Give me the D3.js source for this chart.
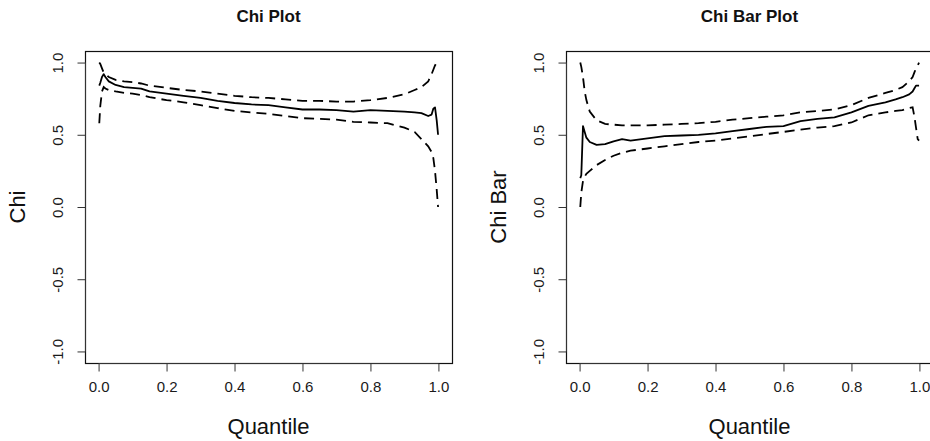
<!DOCTYPE html>
<html><head><meta charset="utf-8">
<script src="https://cdn.jsdelivr.net/npm/d3@7"></script>
<style>html,body{margin:0;padding:0;background:#fff;}svg{display:block;font-family:"Liberation Sans",Arial,sans-serif;}</style>
</head><body>
<svg id="c" width="930" height="441"></svg>
<script>
const quantiles = [0.002,0.005,0.01,0.015,0.02,0.03,0.05,0.075,0.1,0.125,0.15,0.2,0.25,0.3,0.35,0.4,0.45,0.5,0.55,0.6,0.65,0.7,0.75,0.8,0.85,0.9,0.93,0.95,0.97,0.98,0.985,0.99,0.995,0.999];

const chiMain  = [0.84,0.86,0.90,0.92,0.90,0.87,0.845,0.83,0.825,0.82,0.80,0.785,0.77,0.755,0.735,0.72,0.71,0.705,0.69,0.675,0.675,0.67,0.66,0.67,0.665,0.66,0.655,0.65,0.63,0.64,0.68,0.69,0.60,0.50];
const chiUpper = [1.0,0.99,0.96,0.93,0.92,0.90,0.88,0.87,0.865,0.855,0.84,0.825,0.81,0.80,0.785,0.77,0.76,0.755,0.745,0.735,0.735,0.73,0.73,0.74,0.755,0.78,0.81,0.83,0.87,0.92,0.95,0.98,1.0,1.0];
const chiLower = [0.58,0.70,0.80,0.83,0.82,0.81,0.80,0.79,0.785,0.775,0.76,0.74,0.725,0.705,0.685,0.665,0.655,0.645,0.63,0.615,0.61,0.605,0.59,0.585,0.58,0.55,0.52,0.47,0.42,0.38,0.34,0.25,0.12,0.0];

const chiBarMain  = [0.20,0.22,0.56,0.52,0.48,0.45,0.43,0.435,0.455,0.47,0.46,0.475,0.49,0.495,0.50,0.51,0.525,0.54,0.555,0.56,0.595,0.61,0.62,0.655,0.70,0.725,0.745,0.76,0.78,0.80,0.82,0.84,0.84,0.84];
const chiBarUpper = [1.0,0.97,0.90,0.80,0.74,0.66,0.60,0.575,0.57,0.565,0.565,0.565,0.57,0.575,0.58,0.59,0.605,0.615,0.625,0.635,0.655,0.665,0.675,0.705,0.755,0.79,0.81,0.83,0.87,0.90,0.93,0.96,0.98,1.0];
const chiBarLower = [0.0,0.10,0.18,0.21,0.23,0.25,0.29,0.325,0.355,0.375,0.39,0.405,0.42,0.435,0.45,0.46,0.475,0.49,0.505,0.52,0.535,0.55,0.56,0.585,0.635,0.655,0.665,0.67,0.685,0.69,0.63,0.55,0.47,0.46];

const xTicks = [0.0,0.2,0.4,0.6,0.8,1.0];
const yTicks = [-1.0,-0.5,0.0,0.5,1.0];

const panels = [
  {title:"Chi Plot", ylab:"Chi", main:chiMain, upper:chiUpper, lower:chiLower, left:85, right:452},
  {title:"Chi Bar Plot", ylab:"Chi Bar", main:chiBarMain, upper:chiBarUpper, lower:chiBarLower, left:566, right:933}
];

const svg = d3.select("#c");
const boxTop = 51, boxBottom = 363;
const fmt = d => d.toFixed(1);

panels.forEach(p => {
  const x = d3.scaleLinear().domain([-0.04,1.04]).range([p.left,p.right]);
  const y = d3.scaleLinear().domain([-1.08,1.08]).range([boxBottom,boxTop]);
  const g = svg.append("g");

  const line = arr => d3.line().x((d,i)=>x(quantiles[i])).y(d=>y(d))(arr);
  g.append("path").attr("d", line(p.upper)).attr("fill","none").attr("stroke","#000")
    .attr("stroke-width",1.8).attr("stroke-dasharray","10,6");
  g.append("path").attr("d", line(p.lower)).attr("fill","none").attr("stroke","#000")
    .attr("stroke-width",1.8).attr("stroke-dasharray","10,6");
  g.append("path").attr("d", line(p.main)).attr("fill","none").attr("stroke","#000")
    .attr("stroke-width",1.8).attr("stroke-linejoin","round");

  g.append("rect").attr("x",p.left+0.5).attr("y",boxTop+0.5)
    .attr("width",p.right-p.left).attr("height",boxBottom-boxTop)
    .attr("fill","none").attr("stroke","#111").attr("stroke-width",1.2);

  const xa = g.append("g").attr("transform",`translate(0,${boxBottom+0.5})`)
    .call(d3.axisBottom(x).tickValues(xTicks).tickSize(8).tickSizeOuter(0).tickPadding(10).tickFormat(fmt));
  xa.select(".domain").attr("d", `M${x(0)},0H${x(1)}`).attr("stroke","#333");
  xa.selectAll(".tick line").attr("stroke","#333");
  xa.selectAll("text").attr("font-size",15).attr("fill","#1a1a1a").attr("font-family","'Liberation Sans',Arial,sans-serif");

  const ya = g.append("g").attr("transform",`translate(${p.left+0.5},0)`)
    .call(d3.axisLeft(y).tickValues(yTicks).tickSize(8).tickSizeOuter(0).tickFormat(fmt));
  ya.select(".domain").attr("d", `M0,${y(-1)}V${y(1)}`).attr("stroke","#333");
  ya.selectAll(".tick line").attr("stroke","#333");
  ya.selectAll(".tick text").attr("font-size",15).attr("fill","#1a1a1a")
    .attr("font-family","'Liberation Sans',Arial,sans-serif")
    .attr("text-anchor","middle").attr("dy",null).attr("x",null)
    .attr("transform","translate(-23,0) rotate(-90)");

  g.append("text").attr("x",(p.left+p.right)/2).attr("y",22).attr("text-anchor","middle")
    .attr("font-size",17).attr("font-weight","bold").attr("fill","#111").text(p.title);
  g.append("text").attr("x",(p.left+p.right)/2).attr("y",434).attr("text-anchor","middle")
    .attr("font-size",22).attr("fill","#111").text("Quantile");
  g.append("text").attr("transform",`translate(${p.left-60},${(boxTop+boxBottom)/2}) rotate(-90)`)
    .attr("text-anchor","middle").attr("font-size",22).attr("fill","#111").text(p.ylab);
});
</script>
</body></html>
